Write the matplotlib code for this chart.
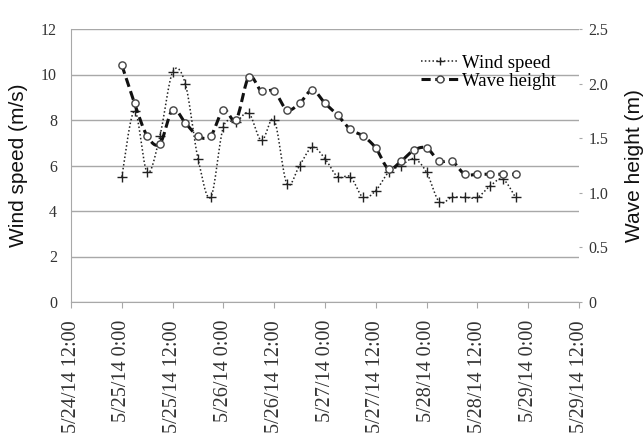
import numpy as np
import pandas as pd
import matplotlib
matplotlib.use("Agg")
import matplotlib.pyplot as plt
import matplotlib.dates as mdates
from matplotlib.lines import Line2D

# observations every 3 h, 5/25/14 0:00 .. 5/28/14 21:00
times = pd.date_range("2014-05-25 00:00", periods=32, freq="3h")

wind_speed = [5.5, 8.4, 5.7, 7.3, 10.1, 9.6, 6.3, 4.6,
              7.7, 7.9, 8.3, 7.1, 8.0, 5.2, 6.0, 6.8,
              6.3, 5.5, 5.5, 4.6, 4.9, 5.7, 6.0, 6.3,
              5.7, 4.4, 4.6, 4.6, 4.6, 5.1, 5.4, 4.6]

wave_height = [2.17, 1.82, 1.52, 1.45, 1.76, 1.64, 1.52, 1.52,
               1.76, 1.67, 2.06, 1.93, 1.93, 1.76, 1.82, 1.94,
               1.82, 1.71, 1.58, 1.52, 1.41, 1.22, 1.29, 1.39,
               1.41, 1.29, 1.29, 1.17, 1.17, 1.17, 1.17, 1.17]

x_start = pd.Timestamp("2014-05-24 12:00")
x_end = pd.Timestamp("2014-05-29 12:00")

serif = ["Liberation Serif", "DejaVu Serif"]
sans = ["Liberation Sans", "DejaVu Sans"]


def smooth(x, y, n=16):
    # excel style smoothed line (catmull-rom through the points)
    x = np.asarray(x, float)
    y = np.asarray(y, float)
    px = np.concatenate([[x[0]], x, [x[-1]]])
    py = np.concatenate([[y[0]], y, [y[-1]]])
    xs, ys = [], []
    t = np.linspace(0, 1, n, endpoint=False)
    for i in range(1, len(px) - 2):
        p0, p3 = np.array([px[i], py[i]]), np.array([px[i + 1], py[i + 1]])
        c1 = p0 + (p3 - np.array([px[i - 1], py[i - 1]])) / 6
        c2 = p3 - (np.array([px[i + 2], py[i + 2]]) - p0) / 6
        b = ((1 - t) ** 3)[:, None] * p0 + (3 * (1 - t) ** 2 * t)[:, None] * c1 \
            + (3 * (1 - t) * t ** 2)[:, None] * c2 + (t ** 3)[:, None] * p3
        xs.extend(b[:, 0])
        ys.extend(b[:, 1])
    xs.append(x[-1])
    ys.append(y[-1])
    return np.array(xs), np.array(ys)


def fmt_date(v, pos=None):
    d = mdates.num2date(v)
    return f"{d.month}/{d.day}/{d.strftime('%y')} {d.hour}:{d.minute:02d}"


fig = plt.figure(figsize=(6.43, 4.37), dpi=100)
ax = fig.add_axes([71 / 643, 1 - 302 / 437, 508 / 643, 273 / 437])
ax2 = ax.twinx()

tn = mdates.date2num(times)
grid_c = "#a8a8a8"

# wind speed
sx, sy = smooth(tn, wind_speed)
ax.plot(sx, sy, ls=(0, (1, 1.5)), lw=1.1, color="#222222", zorder=3)
ax.plot(tn, wind_speed, ls="none", marker="+", ms=6.5, mew=1.0, color="#222222", zorder=4)

# wave height
wx, wy = smooth(tn, wave_height)
ax2.plot(wx, wy, ls=(0, (3, 1.5)), lw=2.2, color="#111111", zorder=3)
ax2.plot(tn, wave_height, ls="none", marker="o", ms=5.2, mew=1.0,
         mfc="white", mec="#444444", zorder=4)

ax.set_xlim(mdates.date2num(x_start), mdates.date2num(x_end))
ax.set_ylim(0, 12)
ax2.set_ylim(0, 2.5)
ax.set_yticks(np.arange(0, 13, 2))
ax2.set_yticks([0, 0.5, 1.0, 1.5, 2.0, 2.5])
ax2.set_yticklabels(["0", "0.5", "1.0", "1.5", "2.0", "2.5"])
ax.xaxis.set_major_locator(mdates.HourLocator(byhour=[0, 12]))
ax.xaxis.set_major_formatter(plt.FuncFormatter(fmt_date))

ax.grid(axis="y", color=grid_c, lw=1.0)
ax.set_axisbelow(True)
for a in (ax, ax2):
    a.spines["top"].set_visible(False)
    a.spines["right"].set_visible(False)
ax2.spines["left"].set_visible(False)
ax2.spines["bottom"].set_visible(False)
ax.spines["left"].set_color(grid_c)
ax.spines["bottom"].set_color(grid_c)

ax.tick_params(axis="y", length=0, pad=10, labelsize=11.5, labelcolor="#333333")
ax.tick_params(axis="x", length=4, color=grid_c, pad=9, labelsize=14.5,
               labelrotation=90, labelcolor="#333333")
ax2.tick_params(axis="y", length=2, color=grid_c, pad=5, labelsize=11.5, labelcolor="#333333")
for lab in ax.get_xticklabels() + ax.get_yticklabels() + ax2.get_yticklabels():
    lab.set_family(serif)
for lab in ax.get_xticklabels():
    lab.set_va("top")

ax.set_ylabel("Wind speed (m/s)", family=sans, fontsize=15, color="#111111")
ax.yaxis.set_label_coords(-0.085, 0.5)
ax2.set_ylabel("Wave height (m)", family=sans, fontsize=15, color="#111111")
ax2.yaxis.set_label_coords(1.09, 0.5)

handles = [
    Line2D([], [], ls=(0, (1, 1.5)), lw=1.1, color="#222222", marker="+", ms=6, mew=1.0),
    Line2D([], [], ls=(0, (3, 1.5)), lw=2.2, color="#111111", marker="o", ms=5,
           mfc="white", mec="#444444"),
]
fig.legend(handles, ["Wind speed", "Wave height"], loc="upper left",
           bbox_to_anchor=(0.655, 0.875), frameon=False, borderpad=0,
           borderaxespad=0, handlelength=2.0, handletextpad=0.2, labelspacing=0.05,
           prop={"family": serif, "size": 13.5})

fig.savefig("out.png", dpi=100)
